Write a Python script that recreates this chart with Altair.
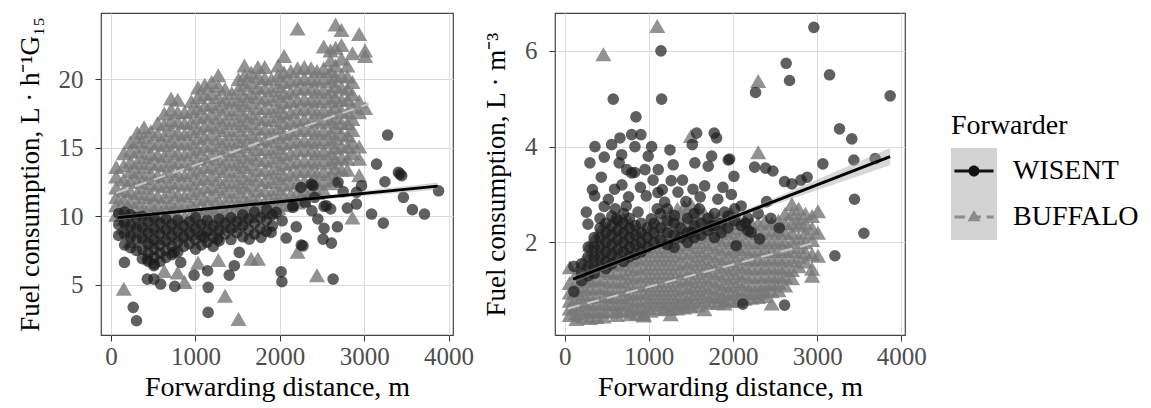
import altair as alt
import pandas as pd

FONT = "Liberation Serif"
SERIES = ["WISENT", "BUFFALO"]
X_TICKS = [0, 1000, 2000, 3000, 4000]
Y_TICKS_HOUR = [5, 10, 15, 20]
Y_TICKS_M3 = [2, 4, 6]
X_TITLE = "Forwarding distance, m"
Y_TITLE_HOUR = "Fuel consumption, L · h⁻¹G₁₅"
Y_TITLE_M3 = "Fuel consumption, L · m⁻³"

# ---------------- left panel: L per G15 hour ----------------
buffalo_hour_columns = [
    (60, [13.6, 12.9, 12.1, 11.4, 10.8, 10.1]),
    (150, [13.7, 14.6, 12.7, 11.9, 11.2, 10.5, 9.8, 9.2, 4.7]),
    (230, [15.4, 14.8, 14.0, 13.3, 12.6, 11.8, 11.1, 10.4, 9.7, 9.0, 8.2]),
    (310, [16.1, 15.5, 14.7, 13.9, 13.2, 12.5, 11.7, 11.0, 10.3, 9.6, 8.9]),
    (390, [16.5, 15.8, 15.1, 14.3, 13.6, 12.8, 12.1, 11.4, 10.6, 9.9, 9.1, 8.5]),
    (470, [16.2, 15.4, 14.6, 13.9, 13.1, 12.4, 11.6, 10.9, 10.2, 9.4, 8.7, 8.1]),
    (550, [16.8, 16.0, 15.3, 14.5, 13.8, 13.0, 12.3, 11.5, 10.8, 10.0, 9.3, 8.5]),
    (630, [17.5, 16.7, 15.9, 15.2, 14.4, 13.7, 12.9, 12.2, 11.4, 10.7, 9.9, 9.2, 8.4, 6.0]),
    (710, [18.6, 17.8, 17.0, 16.3, 15.5, 14.8, 14.0, 13.3, 12.5, 11.8, 11.0, 10.3, 9.5, 8.8]),
    (790, [18.5, 17.6, 16.9, 16.1, 15.4, 14.6, 13.9, 13.1, 12.4, 11.6, 10.9, 10.1, 9.4, 8.6, 5.9]),
    (870, [17.6, 16.8, 16.0, 15.3, 14.5, 13.8, 13.0, 12.3, 11.5, 10.8, 10.0, 9.3, 8.7, 5.2]),
    (950, [18.4, 17.7, 16.9, 16.2, 15.4, 14.7, 13.9, 13.2, 12.4, 11.7, 10.9, 10.2, 9.4, 8.8]),
    (1030, [19.4, 18.7, 17.9, 17.2, 16.4, 15.7, 14.9, 14.2, 13.4, 12.7, 11.9, 11.2, 10.4, 9.7, 9.0, 6.6]),
    (1110, [19.6, 18.9, 18.1, 17.3, 16.6, 15.8, 15.1, 14.3, 13.6, 12.8, 12.1, 11.3, 10.6, 9.8, 9.1]),
    (1190, [19.8, 19.0, 18.2, 17.5, 16.7, 16.0, 15.2, 14.5, 13.7, 13.0, 12.2, 11.5, 10.7, 10.0, 9.2]),
    (1270, [20.3, 19.5, 18.7, 18.0, 17.2, 16.5, 15.7, 15.0, 14.2, 13.5, 12.7, 12.0, 11.2, 10.5, 9.7, 9.1, 6.8]),
    (1350, [19.3, 18.5, 17.8, 17.0, 16.3, 15.5, 14.8, 14.0, 13.3, 12.5, 11.8, 11.0, 10.3, 9.5, 4.2]),
    (1430, [19.0, 18.3, 17.5, 16.8, 16.0, 15.3, 14.5, 13.8, 13.0, 12.3, 11.5, 10.8, 10.0, 9.3]),
    (1510, [20.0, 19.3, 18.5, 17.8, 17.0, 16.3, 15.5, 14.8, 14.0, 13.3, 12.5, 11.8, 11.0, 10.3, 9.5, 2.5]),
    (1580, [21.0, 20.3, 19.6, 18.8, 18.1, 17.3, 16.6, 15.8, 15.1, 14.3, 13.6, 12.8, 12.1, 11.3, 10.6, 9.8]),
    (1660, [20.5, 19.8, 19.0, 18.3, 17.5, 16.8, 16.0, 15.3, 14.5, 13.8, 13.0, 12.3, 11.5, 10.8, 10.0, 6.9]),
    (1740, [20.9, 20.2, 19.4, 18.7, 17.9, 17.2, 16.4, 15.7, 14.9, 14.2, 13.4, 12.7, 11.9, 11.2, 10.4, 6.9]),
    (1820, [20.9, 20.1, 19.4, 18.6, 17.9, 17.1, 16.4, 15.6, 14.9, 14.1, 13.4, 12.6, 11.9, 11.1, 10.4]),
    (1900, [20.0, 19.2, 18.5, 17.7, 17.0, 16.2, 15.5, 14.7, 14.0, 13.2, 12.5, 11.7, 11.0, 10.3]),
    (1980, [21.0, 20.3, 19.5, 18.8, 18.0, 17.3, 16.5, 15.8, 15.0, 14.3, 13.5, 12.8, 12.0, 11.3, 10.6]),
    (2050, [21.7, 20.5, 19.8, 19.0, 18.3, 17.5, 16.8, 16.0, 15.3, 14.5, 13.8, 13.0, 12.3, 11.5, 10.8]),
    (2130, [20.6, 19.9, 19.1, 18.4, 17.6, 16.9, 16.1, 15.4, 14.6, 13.9, 13.1, 12.4, 11.6, 10.9]),
    (2210, [23.7, 20.8, 20.0, 19.3, 18.5, 17.8, 17.0, 16.3, 15.5, 14.8, 14.0, 13.3, 12.5, 11.8, 11.0, 7.4]),
    (2290, [20.9, 20.1, 19.4, 18.6, 17.9, 17.1, 16.4, 15.6, 14.9, 14.1, 13.4, 12.6, 11.9, 11.2]),
    (2370, [20.8, 20.0, 19.3, 18.5, 17.8, 17.0, 16.3, 15.5, 14.8, 14.0, 13.3, 12.5, 11.8]),
    (2440, [20.6, 19.9, 19.1, 18.4, 17.6, 16.9, 16.1, 15.4, 14.6, 13.9, 13.1, 12.4, 11.7, 5.7]),
    (2520, [22.4, 20.8, 20.1, 19.3, 18.6, 17.8, 17.1, 16.3, 15.6, 14.8, 14.1, 13.3, 12.6, 11.9]),
    (2600, [22.1, 21.4, 20.6, 19.9, 19.1, 18.4, 17.6, 16.9, 16.1, 15.4, 14.6, 13.9, 13.1, 12.4]),
    (2660, [24.0, 22.3, 21.0, 20.2, 19.5, 18.7, 18.0, 17.2, 16.5, 15.7, 15.0, 14.2, 13.5, 12.7]),
    (2730, [23.6, 22.5, 21.5, 20.3, 19.4, 18.5, 17.7, 16.8, 16.0, 15.1, 14.3, 13.4]),
    (2800, [21.0, 20.2, 19.3, 18.5, 17.6, 16.8, 15.9, 15.1, 14.2, 13.4]),
    (2860, [21.9, 19.8, 18.9, 18.0, 17.1, 16.3, 15.4, 14.6, 9.9]),
    (2940, [23.3, 18.4, 17.6, 15.1, 14.2, 13.0]),
    (3010, [22.1, 21.7, 17.9]),
]

wisent_hour_columns = [
    (90, [10.2, 9.4, 8.6]),
    (160, [10.3, 9.5, 8.7, 7.9]),
    (230, [10.1, 9.3, 8.5, 7.7]),
    (300, [9.9, 9.1, 8.3, 7.5]),
    (370, [10.0, 9.2, 8.4, 7.6, 6.9]),
    (440, [9.6, 8.8, 8.0, 7.3, 6.7]),
    (510, [9.9, 9.1, 8.3, 7.6, 7.0, 6.5]),
    (580, [9.5, 8.7, 7.9, 7.3, 6.7]),
    (650, [9.8, 9.0, 8.2, 7.5, 7.0]),
    (720, [9.4, 8.6, 7.8, 7.2]),
    (790, [9.7, 8.9, 8.1, 7.4]),
    (860, [9.3, 8.5, 7.8]),
    (930, [9.6, 8.8, 8.0]),
    (1000, [9.9, 9.1, 8.3, 7.6]),
    (1070, [9.4, 8.6, 7.9]),
    (1140, [9.7, 8.9, 8.1]),
    (1210, [9.3, 8.5, 7.8]),
    (1280, [9.8, 9.0, 8.2]),
    (1350, [9.5, 8.7]),
    (1420, [9.9, 9.1, 8.3]),
    (1490, [9.6, 8.8]),
    (1560, [10.1, 9.3, 8.5]),
    (1630, [9.8, 9.0]),
    (1700, [10.3, 9.5, 8.7]),
    (1770, [9.9, 9.1]),
    (1840, [10.5, 9.7, 8.9]),
    (1910, [10.1, 9.3]),
]

wisent_hour_extra = [
    (3277, 15.93), (3146, 13.81), (3245, 12.52), (3405, 13.2), (3444, 12.96),
    (3464, 11.38), (3571, 10.48), (3714, 10.16), (3881, 11.86), (3087, 10.16),
    (3226, 9.50), (2908, 10.89), (2908, 11.75), (2968, 12.23), (2393, 12.23),
    (2412, 11.38), (2524, 10.72), (2602, 10.53), (2524, 9.12), (2512, 8.33),
    (2611, 8.04), (2682, 9.23), (2274, 7.84), (2194, 9.23), (2075, 8.41),
    (2027, 9.67), (2155, 10.65), (2015, 5.94), (2024, 5.22), (2631, 5.41),
    (1956, 10.28), (1896, 8.82), (1777, 8.46), (1638, 8.33), (1519, 7.36),
    (1460, 6.39), (1400, 5.70), (1143, 6.02), (1150, 4.81), (1150, 2.98),
    (983, 5.70), (754, 4.88), (587, 5.05), (429, 5.41), (158, 6.63),
    (262, 3.35), (301, 2.37), (507, 5.41), (1102, 8.46), (1262, 8.33),
    (825, 6.63), (745, 7.36), (429, 6.87), (507, 6.39), (3424, 13.08),
    (2690, 12.48), (2373, 12.35), (2551, 10.77), (2155, 10.77), (2254, 7.9),
    (2250, 12.1), (2300, 11.0), (2750, 11.8), (2800, 10.6), (2450, 9.8), (2380, 10.4),
]

# regression fits: x ends and fitted values
hour_line_x = {"WISENT": [80, 3870], "BUFFALO": [60, 3050]}
hour_line_y = {"WISENT": [9.9, 12.2], "BUFFALO": [11.7, 18.2]}
hour_band_x = {"WISENT": [80, 1000, 2000, 3870], "BUFFALO": [60, 1500, 3050]}
hour_band_lo = {"WISENT": [9.70, 10.38, 10.97, 11.93], "BUFFALO": [11.58, 14.78, 18.05]}
hour_band_hi = {"WISENT": [10.10, 10.54, 11.17, 12.47], "BUFFALO": [11.82, 14.88, 18.35]}

# ---------------- right panel: L per m3 ----------------
buffalo_m3_columns = [
    (60, [1.15, 0.95, 0.78, 0.62, 0.48, 1.48]),
    (140, [1.35, 1.18, 1.0, 0.84, 0.68, 0.52, 0.40]),
    (220, [1.6, 1.42, 1.25, 1.08, 0.92, 0.76, 0.6, 0.45]),
    (300, [1.95, 1.75, 1.56, 1.38, 1.2, 1.03, 0.86, 0.7, 0.55, 0.42]),
    (380, [2.15, 1.96, 1.77, 1.58, 1.4, 1.22, 1.05, 0.88, 0.72, 0.56, 0.44]),
    (460, [2.35, 2.15, 1.95, 1.76, 1.58, 1.4, 1.22, 1.05, 0.88, 0.72, 0.57, 0.45, 5.93]),
    (540, [2.3, 2.1, 1.9, 1.72, 1.54, 1.36, 1.18, 1.01, 0.85, 0.7, 0.55]),
    (620, [2.3, 2.12, 1.93, 1.74, 1.56, 1.38, 1.2, 1.03, 0.87, 0.72, 0.58, 0.48]),
    (700, [2.5, 2.3, 2.1, 1.9, 1.71, 1.53, 1.35, 1.18, 1.01, 0.85, 0.7, 0.56]),
    (780, [2.4, 2.2, 2.0, 1.81, 1.62, 1.44, 1.26, 1.09, 0.92, 0.76, 0.6, 0.5]),
    (860, [2.25, 2.05, 1.86, 1.67, 1.49, 1.31, 1.13, 0.96, 0.8, 0.64, 0.52]),
    (940, [2.2, 2.0, 1.82, 1.64, 1.46, 1.28, 1.1, 0.93, 0.77, 0.62, 0.5, 0.47]),
    (1020, [2.3, 2.1, 1.9, 1.72, 1.54, 1.36, 1.18, 1.01, 0.85, 0.7, 0.57]),
    (1100, [2.4, 2.2, 2.0, 1.82, 1.64, 1.46, 1.28, 1.1, 0.93, 0.77, 0.62, 6.52]),
    (1180, [2.5, 2.3, 2.1, 1.9, 1.72, 1.54, 1.36, 1.18, 1.01, 0.85, 0.7, 0.6]),
    (1260, [2.6, 2.4, 2.2, 2.0, 1.82, 1.64, 1.46, 1.28, 1.1, 0.93, 0.77, 0.62, 0.5]),
    (1340, [2.7, 2.5, 2.3, 2.1, 1.9, 1.72, 1.54, 1.36, 1.18, 1.01, 0.85, 0.7, 0.62]),
    (1420, [2.75, 2.55, 2.35, 2.15, 1.96, 1.77, 1.58, 1.4, 1.22, 1.05, 0.88, 0.72, 0.64]),
    (1500, [2.8, 2.6, 2.4, 2.2, 2.0, 1.81, 1.62, 1.44, 1.26, 1.09, 0.92, 0.76, 0.66, 4.22]),
    (1580, [2.7, 2.5, 2.3, 2.1, 1.9, 1.72, 1.54, 1.36, 1.18, 1.01, 0.85, 0.68]),
    (1660, [2.6, 2.4, 2.2, 2.0, 1.82, 1.64, 1.46, 1.28, 1.1, 0.93, 0.78, 0.6]),
    (1740, [2.55, 2.35, 2.15, 1.96, 1.77, 1.58, 1.4, 1.22, 1.05, 0.88, 0.74]),
    (1820, [2.5, 2.3, 2.1, 1.9, 1.72, 1.54, 1.36, 1.18, 1.01, 0.86, 0.74]),
    (1900, [2.45, 2.25, 2.05, 1.86, 1.67, 1.49, 1.31, 1.13, 0.96, 0.8, 0.72]),
    (1980, [2.6, 2.4, 2.2, 2.0, 1.81, 1.62, 1.44, 1.26, 1.09, 0.92, 0.78]),
    (2060, [2.5, 2.3, 2.1, 1.91, 1.72, 1.54, 1.36, 1.18, 1.01, 0.85, 0.78]),
    (2140, [2.45, 2.25, 2.05, 1.86, 1.67, 1.49, 1.31, 1.13, 0.96, 0.82]),
    (2220, [2.4, 2.2, 2.0, 1.82, 1.64, 1.46, 1.28, 1.1, 0.94, 0.84]),
    (2300, [2.4, 2.2, 2.0, 1.82, 1.64, 1.46, 1.28, 1.1, 0.95, 0.86, 5.37, 3.88]),
    (2380, [2.45, 2.25, 2.05, 1.86, 1.67, 1.49, 1.31, 1.13, 0.98, 0.88]),
    (2460, [2.4, 2.2, 2.0, 1.82, 1.64, 1.46, 1.28, 1.12, 0.98, 0.72]),
    (2540, [2.45, 2.25, 2.05, 1.86, 1.67, 1.49, 1.32, 1.15, 1.0]),
    (2620, [2.6, 2.4, 2.2, 2.0, 1.82, 1.64, 1.46, 1.28, 1.1]),
    (2700, [2.8, 2.6, 2.4, 2.2, 2.0, 1.82, 1.62, 1.42, 1.25]),
    (2780, [2.7, 2.5, 2.35, 2.1, 1.9, 1.7, 1.5]),
    (2860, [2.6, 2.4, 2.2, 2.0, 1.8, 1.6]),
    (2940, [2.55, 2.3, 2.05, 1.75, 1.45, 1.3]),
    (3010, [2.65, 2.2, 1.72]),
]

wisent_m3_columns = [
    (110, [1.5, 0.97]),
    (200, [1.55, 1.35, 1.2]),
    (280, [1.9, 1.7, 1.5, 1.3]),
    (350, [2.1, 1.9, 1.7, 1.5, 1.35]),
    (420, [2.5, 2.3, 2.1, 1.9, 1.7, 1.5]),
    (490, [2.4, 2.2, 2.0, 1.8, 1.6, 1.45]),
    (560, [2.55, 2.35, 2.15, 1.95, 1.75, 1.55]),
    (630, [2.45, 2.25, 2.05, 1.85, 1.65]),
    (700, [2.6, 2.4, 2.2, 2.0, 1.8, 1.6]),
    (770, [2.5, 2.3, 2.1, 1.9, 1.7]),
    (840, [2.35, 2.15, 1.95, 1.75]),
    (910, [2.4, 2.2, 2.0, 1.8]),
    (980, [2.3, 2.1, 1.9]),
    (1060, [2.4, 2.2, 2.0]),
    (1140, [2.6, 2.3, 2.05]),
    (1220, [2.7, 2.45, 2.2, 1.95]),
    (1300, [2.4, 2.15, 1.9]),
    (1380, [2.3, 2.1]),
    (1460, [2.5, 2.2, 2.0]),
    (1540, [2.6, 2.35, 2.1]),
    (1620, [2.4, 2.15]),
    (1700, [2.5, 2.25]),
    (1780, [2.6, 2.35, 2.1]),
    (1860, [2.4, 2.2]),
    (1940, [2.55, 2.3]),
    (2020, [2.7, 2.45]),
    (2100, [2.35]),
    (2180, [2.25, 2.5]),
]

wisent_m3_extra = [
    (2961, 6.49), (1144, 6.0), (2632, 5.74), (2672, 5.38), (3147, 5.5),
    (577, 4.99), (1152, 4.99), (2268, 5.13), (3868, 5.06), (847, 4.62),
    (3266, 4.37), (3412, 4.16), (3436, 3.72), (3068, 3.64), (3444, 2.90),
    (3555, 2.19), (3211, 1.72), (2881, 3.36), (2613, 3.27), (2700, 3.22),
    (2474, 3.49), (2257, 3.57), (2387, 3.55), (2117, 0.71), (2613, 0.69),
    (3690, 3.75), (2808, 3.3), (1960, 3.74), (2011, 3.38),
    (360, 4.0), (300, 3.66), (470, 3.78), (558, 4.04), (657, 4.18),
    (677, 3.83), (648, 3.66), (796, 4.25), (906, 4.25), (835, 4.0),
    (1033, 4.0), (993, 3.8), (1112, 3.52), (1251, 3.93), (1290, 3.62),
    (1516, 4.04), (1568, 4.28), (1547, 3.66), (1706, 3.59), (1746, 3.8),
    (1777, 4.28), (1805, 4.18), (1943, 3.72), (954, 3.52), (796, 3.45),
    (737, 3.52), (435, 3.36), (593, 3.11), (831, 3.46), (969, 2.97),
    (1108, 3.04), (1266, 3.29), (1346, 3.05), (1524, 3.11), (1663, 3.18),
    (1880, 3.15), (257, 2.63), (356, 2.97), (277, 2.38), (613, 2.49),
    (732, 2.76), (871, 2.63), (1029, 2.49), (1188, 2.84), (1306, 2.56),
    (1504, 2.21), (1741, 2.35), (1900, 2.63), (2097, 2.76), (2216, 2.21),
    (2316, 2.07), (2038, 1.93),
    (330, 3.1), (520, 2.9), (680, 3.2), (760, 2.95), (900, 3.15),
    (1050, 3.3), (1160, 3.1), (1400, 3.3), (1440, 2.85), (1610, 2.95),
    (1820, 2.9), (1980, 3.0), (470, 2.75), (600, 2.7), (1100, 2.7),
    (1600, 2.7), (2300, 2.6), (2450, 2.5), (2150, 2.4), (2400, 2.85), (2550, 2.3),
]

m3_line_x = {"WISENT": [99, 3867], "BUFFALO": [40, 3010]}
m3_line_y = {"WISENT": [1.23, 3.79], "BUFFALO": [0.62, 2.01]}
m3_band_x = {"WISENT": [99, 1200, 2500, 3867], "BUFFALO": [40, 1500, 3010]}
m3_band_lo = {"WISENT": [1.15, 1.94, 2.79, 3.61], "BUFFALO": [0.59, 1.29, 1.96]}
m3_band_hi = {"WISENT": [1.31, 2.02, 2.93, 3.97], "BUFFALO": [0.65, 1.32, 2.06]}


def point_rows(columns, extra):
    rows = []
    for x, ys in columns:
        for y in ys:
            rows.append({"x": x, "y": y})
    for x, y in extra:
        rows.append({"x": x, "y": y})
    return pd.DataFrame(rows)


def line_rows(xs, ys, name):
    return pd.DataFrame({"x": xs[name], "y": ys[name]})


def band_rows(xs, lo, hi, name):
    return pd.DataFrame({"x": xs[name], "lo": lo[name], "hi": hi[name]})


# legend key glyphs (unit square paths); tiny corner specks give both keys full-height bounds
CORNERS = " M-1,-1h0.01v0.01h-0.01Z M0.99,0.99h0.01v0.01h-0.01Z"
KEY_BOX = "M-1,-1H1V1H-1Z"
KEY_WISENT = ("M-0.85,-0.07H0.85V0.07H-0.85Z "
              "M-0.24,0A0.24,0.24 0 1,1 0.24,0A0.24,0.24 0 1,1 -0.24,0Z" + CORNERS)
KEY_BUFFALO = ("M-0.85,-0.06H-0.4V0.06H-0.85Z M-0.15,-0.06H0.3V0.06H-0.15Z "
               "M0.55,-0.06H0.85V0.06H0.55Z M0,-0.3L0.28,0.18L-0.28,0.18Z" + CORNERS)


def panel(buffalo_pts, wisent_pts, lxs, lys, bxs, blo, bhi,
          xdom, ydom, yticks, ytitle, width, with_legend):
    xsc = alt.Scale(domain=xdom, nice=False, zero=False)
    ysc = alt.Scale(domain=ydom, nice=False, zero=False)
    xax = alt.Axis(values=X_TICKS, title=X_TITLE, format="d",
                   labelPadding=3, titlePadding=4)
    yax = alt.Axis(values=yticks, title=ytitle, format="d",
                   labelPadding=12, titlePadding=14)
    X = alt.X("x:Q", scale=xsc, axis=xax)
    Y = alt.Y("y:Q", scale=ysc, axis=yax)

    pts_b = alt.Chart(buffalo_pts).mark_point(
        filled=True, shape="triangle-up", size=260, color="#777777",
        opacity=0.8, strokeWidth=0).encode(x=X, y=Y)
    pts_w = alt.Chart(wisent_pts).mark_point(
        filled=True, shape="circle", size=135, color="#1c1c1c",
        opacity=0.7, strokeWidth=0).encode(x=X, y=Y)
    layers = [pts_b, pts_w]
    for name in SERIES:
        layers.append(
            alt.Chart(band_rows(bxs, blo, bhi, name)).mark_area(
                color="#9a9a9a", opacity=0.4).encode(
                x=X, y=alt.Y("lo:Q", scale=ysc, axis=yax), y2="hi:Q"))
    layers.append(
        alt.Chart(line_rows(lxs, lys, "BUFFALO")).mark_line(
            color="#c4c4c4", strokeWidth=2, strokeDash=[12, 8]).encode(x=X, y=Y))
    layers.append(
        alt.Chart(line_rows(lxs, lys, "WISENT")).mark_line(
            color="#000000", strokeWidth=3).encode(x=X, y=Y))

    if with_legend:
        legend_df = pd.DataFrame({"Forwarder": SERIES})
        common = dict(orient="none", legendX=396, symbolSize=2116,
                      symbolStrokeWidth=0, rowPadding=0, padding=0,
                      labelFont=FONT, labelFontSize=28, labelColor="#000000",
                      labelOffset=16, titleFont=FONT, titleFontSize=28,
                      titleFontWeight="normal", titleColor="#000000",
                      titlePadding=8)
        key_bg = alt.Chart(legend_df).mark_point(
            filled=True, color="#d3d3d3", opacity=1).encode(
            shape=alt.Shape("Forwarder:N",
                            scale=alt.Scale(domain=SERIES, range=[KEY_BOX, KEY_BOX]),
                            legend=alt.Legend(legendY=135, title=None,
                                              labelExpr="''", **common))
        ).transform_filter("false")
        key_fg_legend = alt.Legend(legendY=99, title="Forwarder", **common)
        key_fg = alt.Chart(legend_df).mark_point(filled=True, opacity=1).encode(
            color=alt.Color("Forwarder:N",
                            scale=alt.Scale(domain=SERIES, range=["#111111", "#8c8c8c"]),
                            legend=key_fg_legend),
            shape=alt.Shape("Forwarder:N",
                            scale=alt.Scale(domain=SERIES, range=[KEY_WISENT, KEY_BUFFALO]),
                            legend=key_fg_legend),
        ).transform_filter("false")
        layers += [key_bg, key_fg]

    chart = alt.layer(*layers).properties(width=width, height=322)
    if with_legend:
        chart = chart.resolve_scale(shape="independent", color="independent")
    return chart


left = panel(point_rows(buffalo_hour_columns, []),
             point_rows(wisent_hour_columns, wisent_hour_extra),
             hour_line_x, hour_line_y, hour_band_x, hour_band_lo, hour_band_hi,
             [-120, 4052], [1.33, 24.84], Y_TICKS_HOUR, Y_TITLE_HOUR, 352, False)
right = panel(point_rows(buffalo_m3_columns, []),
              point_rows(wisent_m3_columns, wisent_m3_extra),
              m3_line_x, m3_line_y, m3_band_x, m3_band_lo, m3_band_hi,
              [-115, 4044], [0.065, 6.79], Y_TICKS_M3, Y_TITLE_M3, 350, True)

chart = alt.hconcat(left, right, spacing=102, bounds="flush").properties(
    padding={"left": 15, "top": 12, "right": 5, "bottom": 0}
).configure_axis(
    labelFont=FONT, titleFont=FONT, labelFontSize=25, titleFontSize=28,
    labelColor="#4d4d4d", titleColor="#000000", titleFontWeight="normal",
    tickColor="#333333", tickSize=6, tickWidth=1, domain=False,
    gridColor="#dcdcdc", gridWidth=1,
).configure_axisY(titleFontSize=27).configure_view(stroke="#444444", strokeWidth=1.2)

chart.save("out.html", embed_options={"renderer": "svg", "actions": False})
